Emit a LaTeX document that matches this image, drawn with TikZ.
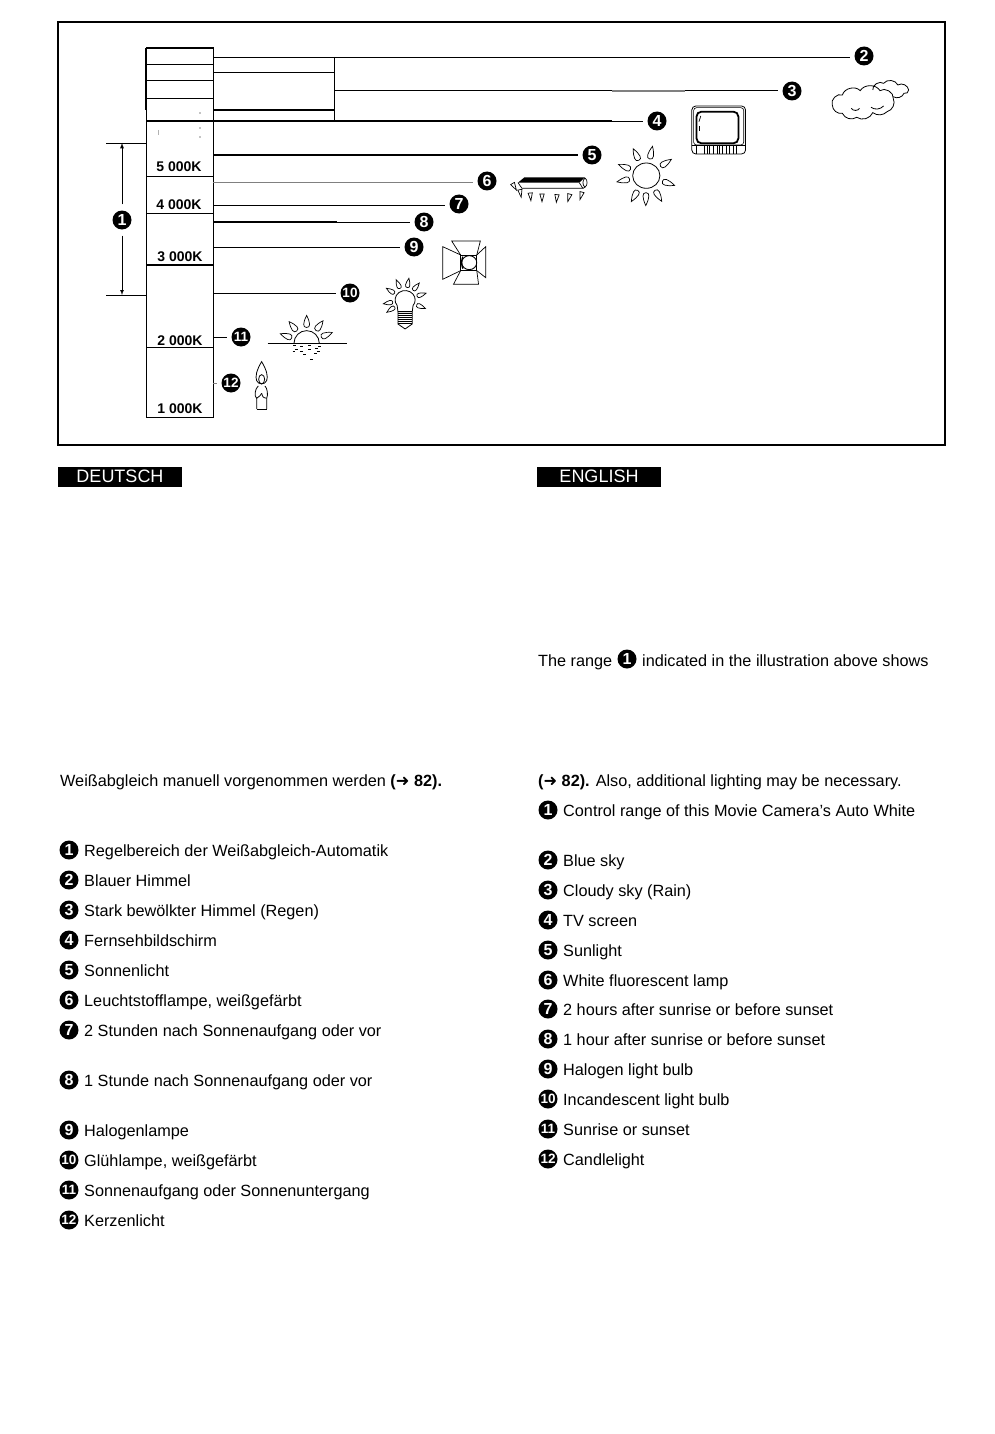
\documentclass[tikz,border=0pt]{standalone}
\usepackage{fontspec}
\setmainfont{Liberation Sans}
\newfontfamily\arrowfont{DejaVu Sans}
\usetikzlibrary{positioning}
\tikzset{
	numdot/.style={circle, fill=black, text=white, inner sep=0pt, minimum size=19pt, font=\fontsize{16}{16}\selectfont\bfseries},
	numdottwo/.style={numdot, font=\fontsize{13.5}{13.5}\selectfont\bfseries},
	lead/.style={line width=0.9pt, shorten >=4pt},
	kelvin/.style={font=\fontsize{14}{14}\selectfont\bfseries},
	itemtext/.style={anchor=base west, inner sep=0pt, font=\fontsize{16.25}{19}\selectfont},
	langtab/.style={fill=black, text=white, minimum width=124pt, minimum height=20pt, inner sep=0pt, font=\fontsize{18}{18}\selectfont},
	zoomb/.style={shift={(380,30)}, x=0.3584pt, y=-0.3333pt},
	zooma/.style={shift={(90,30)}, x=0.3333pt, y=-0.3333pt}
}
\newcommand{\sunray}[4]{\draw[shift={(#1,#2)}, rotate=#3, scale=#4, line width=0.7pt] (1.25,0) .. controls (1.25,0.32) and (1.6,0.3) .. (2.2,0) .. controls (1.6,-0.3) and (1.25,-0.32) .. (1.25,0) -- cycle;}
\begin{document}
\begin{tikzpicture}[x=1pt, y=-1pt]
	\useasboundingbox (0,0) rectangle (994,1434);
	\draw[line width=2pt] (58,22) rectangle (945,445);

	% scale column
	\draw[line width=1pt] (146,48) rectangle (213,417);
	\draw[line width=2pt] (146,48) -- (213,48);
	\draw[line width=1.6pt] (146,48) -- (146,110);
	\draw[line width=0.8pt] (146,64) -- (213,64);
	\draw[line width=0.8pt] (146,80) -- (213,80);
	\draw[line width=0.8pt] (146,98) -- (213,98);
	\draw[line width=0.9pt] (146,176) -- (213,176);
	\draw[line width=0.9pt] (146,213) -- (213,213);
	\draw[line width=1.1pt] (146,265) -- (213,265);
	\draw[line width=0.9pt] (146,347) -- (213,347);
	\fill (200,113) circle (0.6);
	\fill (200,128) circle (0.6);
	\fill (200,137) circle (0.6);
	\draw[gray!60] (158,130) -- (158,135);
	\node[kelvin] (k5) at (179,167) {5 000K};
	\node[kelvin] (k4) at (179,205) {4 000K};
	\node[kelvin] (k3) at (180,257) {3 000K};
	\node[kelvin] (k2) at (180,341) {2 000K};
	\node[kelvin] (k1) at (180,409) {1 000K};

	% range arrow
	\node[numdot] (n1) at (122,220) {1};
	\coordinate (rt) at (122,143);
	\coordinate (rb) at (122,295);
	\draw[line width=0.9pt] (106,143) -- (146,143);
	\draw[line width=0.9pt] (106,295) -- (146,295);
	\draw[-latex, line width=0.9pt, shorten <=6pt] (n1) -- (rt);
	\draw[-latex, line width=0.7pt, shorten <=6pt] (n1) -- (rb);

	% leaders
	\node[numdot] (n2) at (864,56) {2};
	\node[numdot] (n3) at (792,91) {3};
	\node[numdot] (n4) at (657,121) {4};
	\node[numdot] (n5) at (592,155) {5};
	\node[numdot] (n6) at (487,181) {6};
	\node[numdot] (n7) at (459,204) {7};
	\node[numdot] (n8) at (424,222) {8};
	\node[numdot] (n9) at (414,247) {9};
	\node[numdottwo] (n10) at (350,293) {10};
	\node[numdottwo] (n11) at (241,337) {11};
	\node[numdottwo] (n12) at (231,383) {12};
	\coordinate (c2) at (213,57);
	\coordinate (c3) at (335,90);
	\coordinate (c4) at (146,121);
	\coordinate (c5) at (213,155);
	\coordinate (c6) at (213,182);
	\coordinate (c7) at (213,205);
	\coordinate (c8) at (213,222);
	\coordinate (c9) at (213,247);
	\coordinate (c10) at (213,293);
	\coordinate (c11) at (213,337);
	\coordinate (c12) at (213,383);
	\draw[lead] (c2) -- (c2 -| n2.west);
	\draw[lead] (c3) -- (c3 -| n3.west);
	\draw[line width=1.6pt] (c4) -- (612,121);
	\draw[lead] (612,121) -- (c4 -| n4.west);
	\draw[lead, line width=1.6pt] (c5) -- (c5 -| n5.west);
	\draw[lead, gray] (c6) -- (c6 -| n6.west);
	\draw[lead] (c7) -- (c7 -| n7.west);
	\draw[line width=1.6pt] (c8) -- (337,222);
	\draw[lead] (337,222) -- (c8 -| n8.west);
	\draw[lead] (c9) -- (c9 -| n9.west);
	\draw[lead] (c10) -- (c10 -| n10.west);
	\draw[lead] (c11) -- (c11 -| n11.west);
	\draw[lead, gray] (c12) -- (c12 -| n12.west);
	\draw[line width=0.9pt] (213,72) -- (335,72);
	\draw[line width=1.6pt] (213,110) -- (335,110);
	\draw[line width=0.9pt] (334,57) -- (334,121);
	\draw[line width=1.8pt, gray] (612,91) -- (685,91);

	% cloud
	\begin{scope}[zoomb, line width=0.8pt]
		\draw (1262,225) to[bend left=70] (1290,195) to[bend left=60] (1340,182) to[bend left=60] (1395,182) to[bend left=70] (1432,205) to[bend left=50] (1415,245) to[bend left=40] (1375,248) to[bend left=50] (1330,262) to[bend left=50] (1290,250) to[bend left=50] (1262,225);
		\draw (1375,180) to[bend left=70] (1405,160) to[bend left=60] (1445,165) to[bend left=60] (1475,180) to[bend left=60] (1462,190) to[bend left=50] (1432,200);
		\draw (1315,235) to[bend right=60] (1338,235);
		\draw (1370,232) to[bend right=40] (1405,228);
	\end{scope}

	% tv
	\begin{scope}[zoomb]
		\draw[rounded corners=4pt, line width=0.8pt] (870,228) rectangle (1020,372);
		\draw[rounded corners=3pt, line width=0.6pt] (875,233) rectangle (1015,345);
		\draw[rounded corners=5pt, line width=1.8pt] (883,245) rectangle (1000,340);
		\draw[line width=0.7pt] (895,258) -- (890,275);
		\draw[line width=1.2pt] (892,288) -- (892,302);
		\draw[line width=0.6pt] (870,345) -- (1020,345);
		\foreach \x in {882,905,912,920,930,940,947,955,965,975,985,995} {
			\draw[line width=0.6pt] (\x,345) -- (\x,372);
		}
	\end{scope}

	% sun
	\begin{scope}[zoomb]
		\draw[line width=0.8pt] (743,437) circle (38);
		\foreach \a in {116,78,33,-19,-59,-91,-120,-168,158} {
			\sunray{743}{437}{\a}{38}
		}
	\end{scope}

	% tube lamp
	\begin{scope}[zoomb, line width=0.7pt]
		\fill (385,458) -- (403,442) -- (572,442) -- (556,458) -- cycle;
		\draw (385,458) -- (396,475) -- (566,475) -- (556,458);
		\draw (572,444) to[bend left=50] (572,472);
		\draw (572,444) to[bend right=50] (572,472);
		\draw (566,475) -- (572,472);
		\foreach \x/\y/\a in {375/470/30,392/490/10,420/500/5,452/503/0,493/505/-5,527/503/-15,561/497/-15} {
			\draw[shift={(\x,\y)}, rotate=\a] (-6,-11) -- (6,-11) -- (0,12) -- cycle;
		}
	\end{scope}

	% halogen lamp
	\begin{scope}[zoomb, line width=0.7pt]
		\draw (225,675) rectangle (270,722);
		\draw (225,675) -- (200,633) -- (280,633) -- (270,675);
		\draw (225,675) -- (175,650) -- (175,748) -- (225,722);
		\draw (270,675) -- (295,650) -- (295,743) -- (270,722);
		\draw (225,722) -- (205,763) -- (275,763) -- (270,722);
		\draw[line width=0.9pt] (249,698) circle (21);
		\draw[line width=1.2pt] (231,680) to[bend right=20] (231,716);
	\end{scope}

	% bulb
	\begin{scope}[zoomb]
		\draw[line width=0.8pt] (48,827) arc (142:398:28) -- (90,845) -- (50,845) -- cycle;
		\foreach \a in {18,-23,50,80,114,148,-170,-146} {
			\sunray{70}{810}{\a}{28}
		}
		\draw[line width=0.8pt] (50,845) -- (50,882) -- (70,897) -- (90,882) -- (90,845);
		\foreach \y in {852,858,864,870,876,882} {
			\draw[line width=1pt] (50,\y) -- (90,\y);
		}
	\end{scope}

	% sunset
	\begin{scope}[zooma]
		\draw[line width=0.9pt] (533,940) -- (772,940);
		\draw[line width=0.8pt] (612,940) arc (180:360:38);
		\foreach \a in {129,90,54,23,160} {
			\sunray{650}{940}{\a}{38}
		}
		\foreach \x/\y in {610/948,630/950,655/946,675/955,608/966,630/965,655/960,685/950,640/975,672/972,660/988,615/958,682/965} {
			\draw[line width=1pt] (\x,\y) -- +(8,0);
		}
	\end{scope}

	% candle
	\begin{scope}[zooma, line width=0.8pt]
		\draw (515,995) .. controls (500,1020) and (495,1040) .. (500,1052) .. controls (505,1065) and (525,1065) .. (530,1052) .. controls (535,1040) and (530,1020) .. (515,995) -- cycle;
		\draw (515,1048) ellipse (9 and 14);
		\draw (500,1137) -- (500,1105) .. controls (492,1100) and (495,1075) .. (505,1068);
		\draw (530,1137) -- (530,1105) .. controls (535,1095) and (532,1075) .. (525,1068);
		\draw (515,1090) .. controls (510,1100) and (505,1100) .. (500,1105);
		\draw (515,1090) .. controls (520,1110) and (525,1100) .. (530,1105);
		\draw (500,1137) -- (530,1137);
	\end{scope}

	% language tabs
	\node[langtab] (de) at (120,476.5) {DEUTSCH};
	\node[langtab] (en) at (599,476.5) {ENGLISH};

	% german text
	\node[itemtext] (dline) at (60,786) {Weißabgleich manuell vorgenommen werden {\bfseries(\textbf{\arrowfont➜} 82).}};
	\node[numdot] (d1) at (69,850) {1};
	\node[itemtext] (dt1) at (84,856) {Regelbereich der Weißabgleich-Automatik};
	\node[numdot] (d2) at (69,880) {2};
	\node[itemtext] (dt2) at (84,886) {Blauer Himmel};
	\node[numdot] (d3) at (69,910) {3};
	\node[itemtext] (dt3) at (84,916) {Stark bewölkter Himmel (Regen)};
	\node[numdot] (d4) at (69,940) {4};
	\node[itemtext] (dt4) at (84,946) {Fernsehbildschirm};
	\node[numdot] (d5) at (69,970) {5};
	\node[itemtext] (dt5) at (84,976) {Sonnenlicht};
	\node[numdot] (d6) at (69,1000) {6};
	\node[itemtext] (dt6) at (84,1006) {Leuchtstofflampe, weißgefärbt};
	\node[numdot] (d7) at (69,1030) {7};
	\node[itemtext] (dt7) at (84,1036) {2 Stunden nach Sonnenaufgang oder vor};
	\node[numdot] (d8) at (69,1080) {8};
	\node[itemtext] (dt8) at (84,1086) {1 Stunde nach Sonnenaufgang oder vor};
	\node[numdot] (d9) at (69,1130) {9};
	\node[itemtext] (dt9) at (84,1136) {Halogenlampe};
	\node[numdottwo] (d10) at (69,1160) {10};
	\node[itemtext] (dt10) at (84,1166) {Glühlampe, weißgefärbt};
	\node[numdottwo] (d11) at (69,1190) {11};
	\node[itemtext] (dt11) at (84,1196) {Sonnenaufgang oder Sonnenuntergang};
	\node[numdottwo] (d12) at (69,1220) {12};
	\node[itemtext] (dt12) at (84,1226) {Kerzenlicht};

	% english text
	\node[itemtext] (eline) at (538,666) {The range};
	\node[numdot] (e0) at (627,659) {1};
	\node[itemtext] (elinb) at (642,666) {indicated in the illustration above shows};
	\node[itemtext] (elinc) at (538,786) {{\bfseries(\textbf{\arrowfont➜} 82).} Also, additional lighting may be necessary.};
	\node[numdot] (e1) at (548,810) {1};
	\node[itemtext] (et1) at (563,816) {Control range of this Movie Camera’s Auto White};
	\node[numdot] (e2) at (548,860) {2};
	\node[itemtext] (et2) at (563,866) {Blue sky};
	\node[numdot] (e3) at (548,890) {3};
	\node[itemtext] (et3) at (563,896) {Cloudy sky (Rain)};
	\node[numdot] (e4) at (548,920) {4};
	\node[itemtext] (et4) at (563,926) {TV screen};
	\node[numdot] (e5) at (548,950) {5};
	\node[itemtext] (et5) at (563,956) {Sunlight};
	\node[numdot] (e6) at (548,980) {6};
	\node[itemtext] (et6) at (563,986) {White fluorescent lamp};
	\node[numdot] (e7) at (548,1009) {7};
	\node[itemtext] (et7) at (563,1015) {2 hours after sunrise or before sunset};
	\node[numdot] (e8) at (548,1039) {8};
	\node[itemtext] (et8) at (563,1045) {1 hour after sunrise or before sunset};
	\node[numdot] (e9) at (548,1069) {9};
	\node[itemtext] (et9) at (563,1075) {Halogen light bulb};
	\node[numdottwo] (e10) at (548,1099) {10};
	\node[itemtext] (et10) at (563,1105) {Incandescent light bulb};
	\node[numdottwo] (e11) at (548,1129) {11};
	\node[itemtext] (et11) at (563,1135) {Sunrise or sunset};
	\node[numdottwo] (e12) at (548,1159) {12};
	\node[itemtext] (et12) at (563,1165) {Candlelight};
\end{tikzpicture}
\end{document}
